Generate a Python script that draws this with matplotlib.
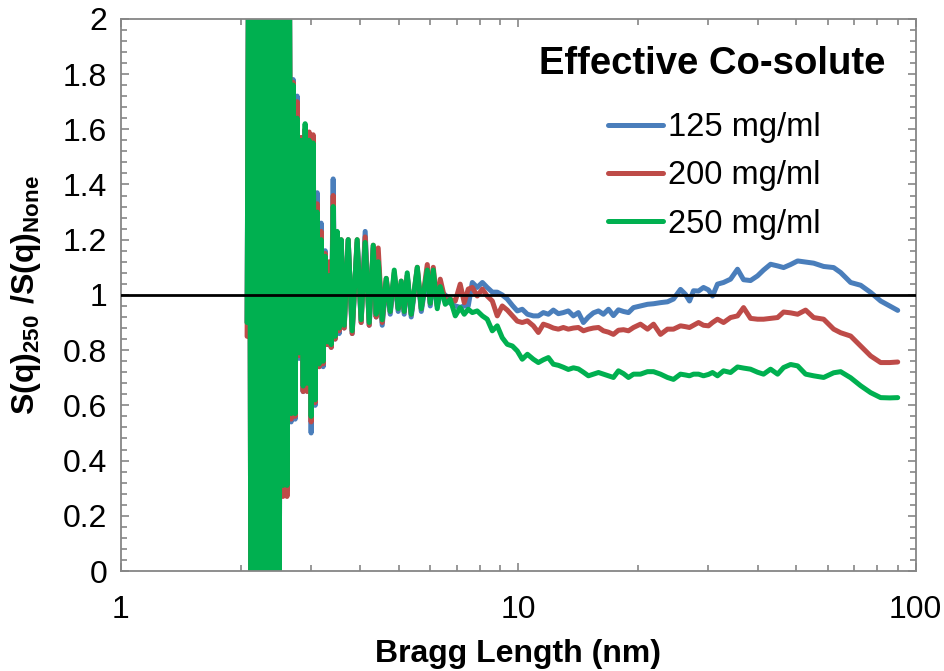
import numpy as np
import matplotlib.pyplot as plt
from matplotlib.ticker import LogLocator, MultipleLocator, FuncFormatter, NullFormatter

# Bragg length (nm), shared by the three curves
bragg_nm = [
    # dense noisy part
    2.077, 2.101, 2.125, 2.150, 2.175, 2.200, 2.226, 2.252, 2.278, 2.304, 2.331,
    2.358, 2.386, 2.413, 2.441, 2.470, 2.499, 2.528, 2.557, 2.587, 2.617, 2.650,
    # decaying oscillations
    2.681, 2.712, 2.744, 2.776, 2.808, 2.841, 2.874, 2.907, 2.941, 2.976, 3.010,
    3.045, 3.081, 3.117, 3.153, 3.190, 3.227, 3.265, 3.303, 3.341, 3.381, 3.420,
    3.459, 3.500, 3.541, 3.583, 3.646, 3.731, 3.818, 3.930, 4.022, 4.117, 4.214,
    4.314, 4.388, 4.440, 4.544, 4.651, 4.760, 4.872, 4.985, 5.073, 5.162, 5.253,
    5.376, 5.568, 5.699, 5.900, 6.003, 6.109, 6.252,
    # smooth tail
    6.36, 6.55, 6.74, 6.94, 7.14, 7.31, 7.48, 7.66, 7.88, 8.12, 8.35, 8.60, 8.85,
    9.11, 9.38, 9.66, 9.94,
    10.23, 10.54, 10.91, 11.23, 11.56, 11.90, 12.25, 12.61, 12.98, 13.36, 13.76,
    14.16, 14.58, 15.01, 15.45, 15.91, 16.37, 16.86, 17.35, 17.86, 18.39, 18.93, 19.49,
    20.29, 21.14, 21.89, 22.79, 23.73, 24.57, 25.59, 26.34, 26.96, 27.60, 28.41,
    29.24, 30.10, 30.81, 31.71, 32.84, 34.20, 35.61, 36.88, 38.40, 39.99, 41.41,
    43.13, 44.92, 46.51, 48.43, 50.45, 52.84, 55.35, 58.66, 62.16, 64.73, 68.59,
    72.69, 77.02, 81.61, 86.04, 90.10,
]

ratio_125 = [
    0.90, 2.8, -0.6, 2.6, -0.8, 3.0, -0.5, 2.7, -0.7, 2.9, -0.6,
    2.6, -0.9, 3.1, -0.5, 2.8, -0.6, 2.7, 0.28, 2.9, 0.29, 2.5,
    0.54, 1.78, 0.55, 1.72, 0.77, 1.57, 0.65, 1.60, 0.66, 1.57, 0.50,
    1.55, 0.60, 1.37, 0.74, 1.26, 0.74, 1.16, 0.82, 1.08, 0.81, 1.42,
    0.84, 1.22, 0.86, 1.19, 0.88, 1.20, 0.86, 1.19, 0.90, 1.23, 0.89,
    1.17, 0.92, 1.13, 0.89, 1.05, 0.93, 1.07, 0.94, 1.04, 0.93, 1.07,
    0.92, 1.09, 0.94, 1.08, 0.96, 1.06, 0.96,
    1.00, 1.00, 0.97, 0.96, 0.955, 0.96, 0.96, 1.045, 1.027, 1.045, 1.027, 1.01, 1.01,
    1.00, 0.985, 0.962, 0.942,
    0.948, 0.93, 0.924, 0.924, 0.936, 0.93, 0.945, 0.932, 0.936, 0.942, 0.924,
    0.936, 0.90, 0.92, 0.935, 0.942, 0.93, 0.948, 0.925, 0.946, 0.94, 0.936, 0.954,
    0.96, 0.966, 0.968, 0.972, 0.975, 0.985, 1.02, 1.002, 0.978, 1.015, 1.014,
    1.027, 1.018, 0.996, 1.039, 1.045, 1.057, 1.093, 1.055, 1.052, 1.069, 1.09,
    1.111, 1.105, 1.099, 1.11, 1.123, 1.119, 1.115, 1.103, 1.099, 1.081, 1.045,
    1.035, 1.009, 0.978, 0.96, 0.944,
]

ratio_200 = [
    0.85, 2.8, -0.6, 2.6, -0.8, 3.0, -0.5, 2.7, -0.7, 2.9, -0.6,
    2.6, -0.9, 3.1, -0.5, 2.8, -0.6, 2.7, 0.27, 2.9, 0.27, 2.5,
    0.55, 1.77, 0.56, 1.70, 0.78, 1.57, 0.65, 1.60, 0.65, 1.59, 0.54,
    1.58, 0.61, 1.33, 0.74, 1.23, 0.75, 1.15, 0.82, 1.12, 0.81, 1.36,
    0.84, 1.22, 0.87, 1.20, 0.88, 1.20, 0.86, 1.20, 0.90, 1.21, 0.89,
    1.18, 0.92, 1.17, 0.90, 1.06, 0.94, 1.08, 0.95, 1.05, 0.94, 1.07,
    0.93, 1.10, 0.95, 1.11, 0.97, 1.10, 0.96,
    1.057, 0.978, 0.984, 0.978, 1.039, 0.972, 1.021, 1.027, 0.996, 1.021, 0.996, 0.978, 0.924,
    0.96, 0.945, 0.925, 0.905,
    0.90, 0.906, 0.888, 0.864, 0.894, 0.888, 0.88, 0.876, 0.882, 0.876, 0.88,
    0.882, 0.87, 0.876, 0.88, 0.882, 0.87, 0.865, 0.857, 0.872, 0.874, 0.87, 0.882,
    0.894, 0.876, 0.894, 0.857, 0.876, 0.876, 0.888, 0.885, 0.882, 0.89, 0.90,
    0.89, 0.888, 0.90, 0.912, 0.90, 0.918, 0.924, 0.954, 0.915, 0.912, 0.912,
    0.915, 0.918, 0.938, 0.935, 0.93, 0.945, 0.918, 0.912, 0.876, 0.863, 0.851,
    0.815, 0.779, 0.755, 0.755, 0.757,
]

ratio_250 = [
    0.90, 2.8, -0.6, 2.6, -0.8, 3.0, -0.5, 2.7, -0.7, 2.9, -0.6,
    2.6, -0.9, 3.1, -0.5, 2.8, -0.6, 2.7, 0.31, 2.9, 0.31, 2.5,
    0.57, 1.76, 0.57, 1.64, 0.79, 1.56, 0.67, 1.62, 0.68, 1.56, 0.56,
    1.55, 0.62, 1.30, 0.75, 1.20, 0.76, 1.14, 0.83, 1.07, 0.82, 1.32,
    0.85, 1.23, 0.88, 1.20, 0.89, 1.20, 0.87, 1.20, 0.91, 1.19, 0.90,
    1.18, 0.93, 1.12, 0.91, 1.06, 0.94, 1.09, 0.95, 1.05, 0.94, 1.08,
    0.93, 1.10, 0.95, 1.09, 0.97, 1.09, 0.95,
    1.03, 0.966, 0.984, 0.924, 0.954, 0.93, 0.948, 0.936, 0.942, 0.924, 0.912, 0.87, 0.888,
    0.845, 0.821, 0.815, 0.797,
    0.767, 0.785, 0.767, 0.755, 0.765, 0.773, 0.749, 0.745, 0.738, 0.73, 0.736,
    0.732, 0.72, 0.707, 0.713, 0.719, 0.713, 0.707, 0.701, 0.725, 0.715, 0.701, 0.713,
    0.713, 0.722, 0.722, 0.713, 0.701, 0.694, 0.713, 0.71, 0.707, 0.713, 0.713,
    0.707, 0.712, 0.719, 0.707, 0.725, 0.719, 0.739, 0.735, 0.731, 0.72, 0.713,
    0.731, 0.713, 0.737, 0.748, 0.743, 0.713, 0.707, 0.701, 0.718, 0.722, 0.70,
    0.671, 0.646, 0.628, 0.627, 0.628,
]

series = [
    ('125 mg/ml', ratio_125, '#4a7ebb'),
    ('200 mg/ml', ratio_200, '#be4b48'),
    ('250 mg/ml', ratio_250, '#00b050'),
]

plt.rcParams['font.family'] = 'Liberation Sans'
plt.rcParams['mathtext.fontset'] = 'custom'
plt.rcParams['mathtext.rm'] = 'Liberation Sans'
plt.rcParams['mathtext.bf'] = 'Liberation Sans:bold'

grey = '#868686'

fig = plt.figure(figsize=(9.45, 6.71), dpi=100)
ax = fig.add_axes([0.128, 0.149, 0.841, 0.823])

x = np.array(bragg_nm)
for name, vals, col in series:
    ax.plot(x, vals, color=col, lw=3.6, label=name,
            solid_joinstyle='round', solid_capstyle='round')

# reference line at ratio 1
ax.axhline(1, color='black', lw=2.0, zorder=5)

ax.set_xscale('log')
ax.set_xlim(1, 100)
ax.set_ylim(0, 2)

ax.xaxis.set_major_locator(LogLocator(base=10))
ax.xaxis.set_minor_locator(LogLocator(base=10, subs=np.arange(2, 10)))
ax.xaxis.set_major_formatter(FuncFormatter(lambda v, p: '%g' % v))
ax.xaxis.set_minor_formatter(NullFormatter())
ax.yaxis.set_major_locator(MultipleLocator(0.2))
ax.yaxis.set_minor_locator(MultipleLocator(0.04))
ax.yaxis.set_major_formatter(FuncFormatter(lambda v, p: '%g' % round(v, 2)))

ax.tick_params(which='both', direction='in', top=True, right=True, color=grey, width=1.2)
ax.tick_params(which='major', length=6, labelsize=23)
ax.tick_params(which='minor', length=4)
ax.tick_params(axis='x', pad=17)
ax.tick_params(axis='y', pad=10)
for s in ax.spines.values():
    s.set_color(grey)
    s.set_linewidth(1.3)

ax.set_xlabel('Bragg Length (nm)', fontsize=23, fontweight='bold')
ax.xaxis.set_label_coords(0.5, -0.124)
ax.set_ylabel(r'$\mathbf{S(q)_{250}\ /S(q)_{None}}$', fontsize=23)
ax.yaxis.set_label_coords(-0.098, 0.5)

# legend title drawn as its own text so the gap to the entries matches
ax.text(0.7434, 0.918, 'Effective Co-solute', transform=ax.transAxes,
        ha='center', va='center', fontsize=27.5, fontweight='bold')
ax.legend(loc='upper left', bbox_to_anchor=(0.6126, 0.831), frameon=False,
          fontsize=23.5, handlelength=1.68, handletextpad=0.15,
          labelspacing=0.53, borderpad=0.0, borderaxespad=0.0)

fig.savefig('out.png', dpi=100)
